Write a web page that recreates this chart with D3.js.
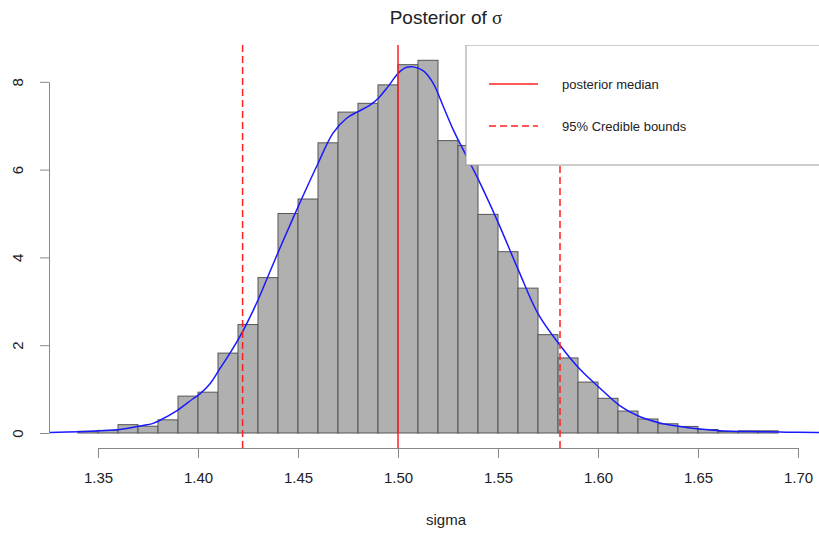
<!DOCTYPE html>
<html>
<head>
<meta charset="utf-8">
<script src="https://cdn.jsdelivr.net/npm/d3@7"></script>
<style>
  html, body { margin: 0; padding: 0; background: #fff; }
  svg { display: block; }
  text { font-family: "Liberation Sans", Arial, Helvetica, sans-serif; fill: #222; }
</style>
</head>
<body>
<svg id="chart" width="819" height="534"></svg>
<script>
// Histogram of posterior draws of sigma (bin width 0.01, density scale)
const binStarts = [1.34, 1.35, 1.36, 1.37, 1.38, 1.39, 1.40, 1.41, 1.42, 1.43, 1.44, 1.45,
  1.46, 1.47, 1.48, 1.49, 1.50, 1.51, 1.52, 1.53, 1.54, 1.55, 1.56, 1.57, 1.58, 1.59,
  1.60, 1.61, 1.62, 1.63, 1.64, 1.65, 1.66, 1.67, 1.68];
const binDensity = [0.04, 0.06, 0.19, 0.155, 0.30, 0.84, 0.93, 1.82, 2.47, 3.54, 5.00, 5.33,
  6.61, 7.31, 7.51, 7.93, 8.39, 8.49, 6.66, 6.55, 4.98, 4.13, 3.30, 2.24, 1.71, 1.16,
  0.79, 0.50, 0.32, 0.21, 0.15, 0.08, 0.035, 0.05, 0.05];
const binWidth = 0.01;

// Kernel density estimate of the same draws
const densX = [1.326, 1.341, 1.351, 1.361, 1.371, 1.3775, 1.381, 1.3895, 1.3975, 1.401,
  1.406, 1.41, 1.416, 1.4223, 1.43, 1.436, 1.4418, 1.451, 1.46, 1.4675, 1.4743, 1.48,
  1.486, 1.49, 1.495, 1.50, 1.5043, 1.5077, 1.5127, 1.5177, 1.5227, 1.5277, 1.5343,
  1.5402, 1.5502, 1.5602, 1.5702, 1.581, 1.591, 1.601, 1.611, 1.621, 1.631, 1.641,
  1.651, 1.661, 1.671, 1.681, 1.691, 1.70, 1.72];
const densY = [0.01, 0.03, 0.05, 0.08, 0.16, 0.22, 0.29, 0.51, 0.78, 0.89,
  1.12, 1.40, 1.82, 2.31, 3.03, 3.68, 4.30, 5.25, 6.14, 6.83, 7.17, 7.32,
  7.47, 7.62, 7.89, 8.19, 8.33, 8.34, 8.25, 7.96, 7.43, 6.90, 6.30,
  5.77, 4.78, 3.71, 2.70, 2.00, 1.45, 1.02, 0.62, 0.37, 0.23, 0.15,
  0.09, 0.05, 0.035, 0.03, 0.02, 0.015, 0.01];

// Posterior summary
const posteriorMedian = 1.50;
const credibleBounds = [1.4223, 1.581];

const xTicks = [1.35, 1.40, 1.45, 1.50, 1.55, 1.60, 1.65, 1.70];
const yTicks = [0, 2, 4, 6, 8];
const legendLabels = ["posterior median", "95% Credible bounds"];

const svg = d3.select("#chart");

// Plotting region
const plot = { left: 49, right: 843, top: 45, bottom: 448 };

const x = d3.scaleLinear().domain([1.35, 1.70]).range([98, 798]);
const y = d3.scaleLinear().domain([0, 8]).range([433, 81.8]);

svg.append("defs").append("clipPath").attr("id", "plotClip")
  .append("rect")
  .attr("x", plot.left).attr("y", plot.top)
  .attr("width", plot.right - plot.left).attr("height", plot.bottom - plot.top);

const g = svg.append("g").attr("clip-path", "url(#plotClip)");

// Bars
g.selectAll("rect.bar")
  .data(binStarts.map((s, i) => ({ s, d: binDensity[i] })))
  .join("rect")
  .attr("class", "bar")
  .attr("x", d => x(d.s))
  .attr("width", d => x(d.s + binWidth) - x(d.s))
  .attr("y", d => y(d.d))
  .attr("height", d => y(0) - y(d.d))
  .attr("fill", "#b0b0b0")
  .attr("stroke", "#555")
  .attr("stroke-width", 1);

// Density curve
const line = d3.line()
  .x((d, i) => x(densX[i]))
  .y(d => y(d))
  .curve(d3.curveCatmullRom.alpha(0.5));

g.append("path")
  .attr("d", line(densY))
  .attr("fill", "none")
  .attr("stroke", "#1a1aff")
  .attr("stroke-width", 1.5);

// Median and credible bounds
g.append("line")
  .attr("x1", x(posteriorMedian)).attr("x2", x(posteriorMedian))
  .attr("y1", plot.top).attr("y2", plot.bottom)
  .attr("stroke", "#ff2020").attr("stroke-width", 1.5);

g.selectAll("line.bound")
  .data(credibleBounds)
  .join("line")
  .attr("class", "bound")
  .attr("x1", d => x(d)).attr("x2", d => x(d))
  .attr("y1", plot.top).attr("y2", plot.bottom)
  .attr("stroke", "#ff2020").attr("stroke-width", 1.5)
  .attr("stroke-dasharray", "7,4");

// Legend
const lg = svg.append("g").attr("clip-path", "url(#plotClip)");
lg.append("rect")
  .attr("x", 466).attr("y", plot.top)
  .attr("width", 420).attr("height", 120)
  .attr("fill", "#fff")
  .attr("stroke", "#999").attr("stroke-width", 1);

legendLabels.forEach((lab, i) => {
  const ly = 84 + i * 42;
  lg.append("line")
    .attr("x1", 489).attr("x2", 538)
    .attr("y1", ly).attr("y2", ly)
    .attr("stroke", "#ff2020").attr("stroke-width", 1.5)
    .attr("stroke-dasharray", i === 1 ? "7,4" : null);
  lg.append("text")
    .attr("x", 562).attr("y", ly)
    .attr("dy", "0.35em")
    .attr("font-size", 13)
    .text(lab);
});

// X axis
const xAxis = svg.append("g")
  .attr("transform", `translate(0,${plot.bottom})`)
  .call(d3.axisBottom(x).tickValues(xTicks).tickFormat(d3.format(".2f"))
    .tickSize(10).tickSizeOuter(0).tickPadding(14));
xAxis.select(".domain").attr("stroke", "#888");
xAxis.selectAll(".tick line").attr("stroke", "#888");
xAxis.selectAll(".tick text")
  .attr("font-size", 15)
  .attr("font-family", "'Liberation Sans', Arial, sans-serif")
  .attr("fill", "#222");

// Y axis with rotated labels
const yAxis = svg.append("g")
  .attr("transform", `translate(${plot.left},0)`)
  .call(d3.axisLeft(y).tickValues(yTicks).tickSize(9).tickSizeOuter(0));
yAxis.select(".domain").attr("stroke", "#888");
yAxis.selectAll(".tick line").attr("stroke", "#888");
yAxis.selectAll(".tick text")
  .attr("x", null).attr("dy", null)
  .attr("transform", "translate(-31,0) rotate(-90)")
  .attr("text-anchor", "middle")
  .attr("dy", "0.35em")
  .attr("font-size", 15)
  .attr("font-family", "'Liberation Sans', Arial, sans-serif")
  .attr("fill", "#222");

// Axis title
svg.append("text")
  .attr("x", (plot.left + plot.right) / 2).attr("y", 525)
  .attr("text-anchor", "middle")
  .attr("font-size", 15)
  .text("sigma");

// Main title
const title = svg.append("text")
  .attr("x", (plot.left + plot.right) / 2).attr("y", 24)
  .attr("text-anchor", "middle")
  .attr("font-size", 19);
title.append("tspan").text("Posterior of ");
title.append("tspan").attr("font-family", "'Liberation Serif', 'DejaVu Serif', serif").text("σ");
</script>
</body>
</html>
